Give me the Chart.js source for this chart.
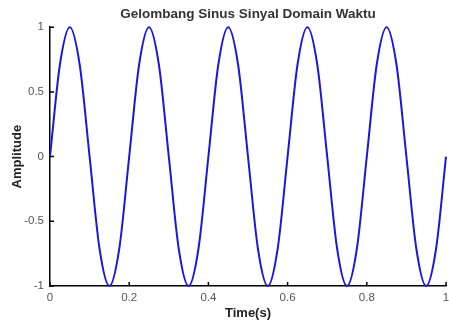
<!DOCTYPE html>
<html>
<head>
<meta charset="utf-8">
<script src="https://cdn.jsdelivr.net/npm/chart.js@4/dist/chart.umd.min.js"></script>
<style>
  html, body { margin: 0; padding: 0; background: #fff; }
  #wrap { width: 449px; height: 324px; }
</style>
</head>
<body>
<div id="wrap"><canvas id="chart" width="449" height="324"></canvas></div>
<script>
// sample times (s) and the amplitude
var times = [0, 0.025, 0.05, 0.075, 0.1, 0.125, 0.15, 0.175,
  0.2, 0.225, 0.25, 0.275, 0.3, 0.325, 0.35, 0.375,
  0.4, 0.425, 0.45, 0.475, 0.5, 0.525, 0.55, 0.575,
  0.6, 0.625, 0.65, 0.675, 0.7, 0.725, 0.75, 0.775,
  0.8, 0.825, 0.85, 0.875, 0.9, 0.925, 0.95, 0.975, 1];
var amplitude = [0, 0.71, 1, 0.71, 0, -0.71, -1, -0.71,
  0, 0.71, 1, 0.71, 0, -0.71, -1, -0.71,
  0, 0.71, 1, 0.71, 0, -0.71, -1, -0.71,
  0, 0.71, 1, 0.71, 0, -0.71, -1, -0.71,
  0, 0.71, 1, 0.71, 0, -0.71, -1, -0.71, 0];

// axis tick values
var xTicks = [0, 0.2, 0.4, 0.6, 0.8, 1];
var yTicks = [-1, -0.5, 0, 0.5, 1];

var points = times.map(function (t, i) {
  return { x: t, y: amplitude[i] };
});

// small tick marks pointing into the plot, like matlab
var inwardTicks = {
  id: "inwardTicks",
  afterDraw: function (chart) {
    var ctx = chart.ctx;
    var area = chart.chartArea;
    var xs = chart.scales.x;
    var ys = chart.scales.y;
    ctx.save();
    ctx.strokeStyle = "#000";
    ctx.lineWidth = 1.5;
    ctx.beginPath();
    xTicks.forEach(function (v) {
      var px = xs.getPixelForValue(v);
      ctx.moveTo(px, area.bottom);
      ctx.lineTo(px, area.bottom - 4);
    });
    yTicks.forEach(function (v) {
      var py = ys.getPixelForValue(v);
      ctx.moveTo(area.left, py);
      ctx.lineTo(area.left + 4, py);
    });
    ctx.stroke();
    ctx.restore();
  }
};

// plain number labels: 1, 0.5, -1 (no trailing .0)
function plainLabel(value) {
  return String(value);
}

var ctx = document.getElementById("chart").getContext("2d");
new Chart(ctx, {
  type: "line",
  data: {
    datasets: [
      {
        data: points,
        borderColor: "#1818e0",
        borderWidth: 2,
        pointRadius: 0,
        cubicInterpolationMode: "monotone",
        fill: false,
        clip: 6
      }
    ]
  },
  options: {
    responsive: false,
    animation: { duration: 0 },
    layout: { padding: { left: 0, right: 3, top: 0, bottom: 0 } },
    plugins: {
      legend: { display: false },
      tooltip: { enabled: false },
      title: {
        display: true,
        fullSize: false,
        text: "Gelombang Sinus Sinyal Domain Waktu",
        color: "#333",
        font: { family: "Liberation Sans", size: 13.5, weight: "bold" },
        padding: { top: 6, bottom: 5 }
      }
    },
    scales: {
      x: {
        type: "linear",
        min: 0,
        max: 1,
        afterBuildTicks: function (scale) {
          scale.ticks = xTicks.map(function (v) { return { value: v }; });
        },
        afterFit: function (scale) {
          scale.height = 38;
          scale.paddingLeft = 0;
          scale.paddingRight = 0;
        },
        grid: { display: true, drawOnChartArea: false, drawTicks: false },
        border: { display: true, color: "#000", width: 1.5 },
        ticks: {
          color: "#555",
          padding: 5,
          maxRotation: 0,
          callback: plainLabel,
          font: { family: "Liberation Sans", size: 11.5 }
        },
        title: {
          display: true,
          text: "Time(s)",
          color: "#222",
          font: { family: "Liberation Sans", size: 13, weight: "bold" },
          padding: { top: 0, bottom: 3 }
        }
      },
      y: {
        min: -1,
        max: 1,
        afterBuildTicks: function (scale) {
          scale.ticks = yTicks.map(function (v) { return { value: v }; });
        },
        afterFit: function (scale) {
          scale.width = 50;
        },
        grid: { display: true, drawOnChartArea: false, drawTicks: false },
        border: { display: true, color: "#000", width: 1.5 },
        ticks: {
          color: "#555",
          padding: 6,
          callback: plainLabel,
          font: { family: "Liberation Sans", size: 11.5 }
        },
        title: {
          display: true,
          text: "Amplitude",
          color: "#222",
          font: { family: "Liberation Sans", size: 13, weight: "bold" },
          padding: { top: 10, bottom: 0 }
        }
      }
    }
  },
  plugins: [inwardTicks]
});
</script>
</body>
</html>
